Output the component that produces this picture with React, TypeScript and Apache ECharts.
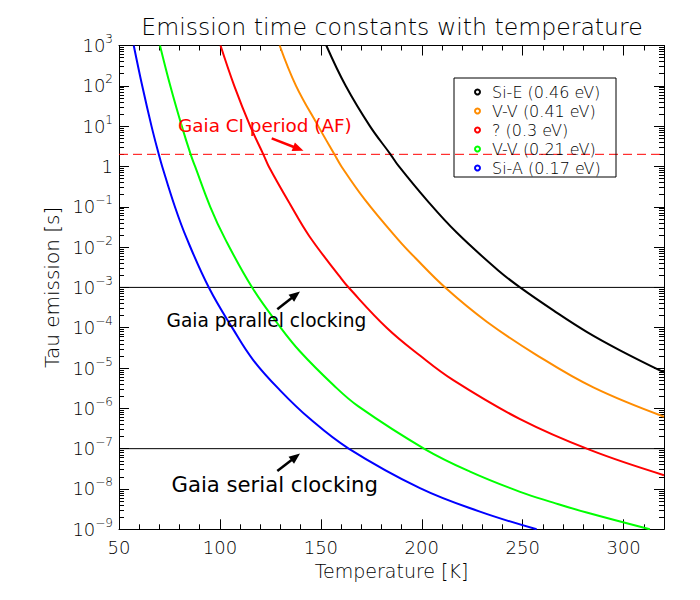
import React, { useEffect, useRef } from "react";
import * as echarts from "echarts";

// ---------- data ----------
const seriesNames = ["Si-E (0.46 eV)", "V-V (0.41 eV)", "? (0.3 eV)", "V-V (0.21 eV)", "Si-A (0.17 eV)"];
const seriesColors = ["#000000", "#ff8c00", "#ff0000", "#00ff00", "#0000ff"];

// Si-E (0.46 eV) — black
const siETemps = [152.7, 162.3, 174.3, 184.5, 188.7, 202.4, 217.3, 237.9, 248.7, 265.2, 281.7, 298.2, 320];
const siETau = [1000, 100, 10, 2, 1, 0.148, 0.0229, 2.63e-3, 1.0e-3, 2.69e-4, 7.9e-5, 2.75e-5, 7.8e-6];

// V-V (0.41 eV) — orange
const vv41Temps = [129.6, 137.7, 148.7, 156.7, 160.2, 171.9, 188.4, 196.6, 212.0, 232.2, 256.9, 285.0, 320];
const vv41Tau = [1000, 100, 10, 2, 1, 0.148, 0.0151, 5.5e-3, 9.5e-4, 1.41e-4, 2.1e-5, 3.3e-6, 6.2e-7];

// ? (0.3 eV) — red
const q30Temps = [100.3, 107.1, 115.0, 121.5, 124.2, 134.7, 144.3, 159.5, 164.1, 182.6, 199.1, 215.6, 248.7, 283.3, 320];
const q30Tau = [1000, 100, 10, 2, 1, 0.117, 0.0186, 1.82e-3, 9.5e-4, 1.0e-4, 2.04e-5, 5.0e-6, 5.4e-7, 9.3e-8, 2.2e-8];

// V-V (0.21 eV) — green
const vv21Temps = [70.3, 75.4, 81.1, 85.5, 87.7, 95.2, 102.5, 116.2, 129.8, 139.7, 156.2, 168.6, 201.5, 223.9, 248.7, 265.2, 281.7, 313];
const vv21Tau = [1000, 100, 10, 2, 1, 0.1, 0.0162, 9.5e-4, 1.05e-4, 2.57e-5, 3.8e-6, 1.12e-6, 9.8e-8, 2.7e-8, 8.5e-9, 4.6e-9, 2.6e-9, 1e-9];

// Si-A (0.17 eV) — blue
const siATemps = [57.3, 61.5, 66.1, 69.7, 71.4, 77.7, 83.5, 94.7, 106.6, 116.5, 129.8, 144.6, 163.6, 199.1, 228.8, 256.9];
const siATau = [1000, 100, 10, 2, 1, 0.1, 0.0166, 9.5e-4, 9.1e-5, 1.58e-5, 2.8e-6, 5.5e-7, 1.02e-7, 1.05e-8, 2.75e-9, 1e-9];

// reference lines (seconds)
const gaiaCIPeriod = 2;
const gaiaParallel = 1e-3;
const gaiaSerial = 1e-7;

// axes
const xMin = 50;
const xMax = 320;
const xMajorTicks = [50, 100, 150, 200, 250, 300];
const xMinorTicks = [60, 70, 80, 90, 110, 120, 130, 140, 160, 170, 180, 190, 210, 220, 230, 240, 260, 270, 280, 290, 310];
const yMajorExponents = [-9, -8, -7, -6, -5, -4, -3, -2, -1, 0, 1, 2, 3];
const yMinorMultipliers = [2, 3, 4, 5, 6, 7, 8, 9];

// ---------- helpers ----------
const FONT = '"DejaVu Sans", sans-serif';
const LIGHT = 300;
const yMajorValues = yMajorExponents.map((e) => Math.pow(10, e));
const yMinorValues: number[] = [];
yMajorExponents.slice(0, -1).forEach((e) => {
  yMinorMultipliers.forEach((m) => yMinorValues.push(m * Math.pow(10, e)));
});

function zip(t: number[], v: number[]) {
  return t.map((x, i) => [x, v[i]]);
}

function arrow(x1: number, y1: number, x2: number, y2: number, color: string, width: number) {
  const dx = x2 - x1;
  const dy = y2 - y1;
  const len = Math.hypot(dx, dy);
  const ux = dx / len;
  const uy = dy / len;
  const headLen = 11;
  const headW = 4.5;
  const bx = x2 - ux * headLen;
  const by = y2 - uy * headLen;
  return [
    { type: "line", silent: true, shape: { x1, y1, x2: bx + ux * 2, y2: by + uy * 2 }, style: { stroke: color, lineWidth: width } },
    {
      type: "polygon",
      silent: true,
      shape: { points: [[x2, y2], [bx - uy * headW, by + ux * headW], [bx + uy * headW, by - ux * headW]] },
      style: { fill: color },
    },
  ];
}

function yLabel(value: number) {
  const e = Math.round(Math.log10(value));
  if (e === 0) return "{b|1}";
  const exp = e < 0 ? "\u2212" + Math.abs(e) : String(e);
  return "{b|10}{s|" + exp + "}";
}

export default function App() {
  const ref = useRef<HTMLDivElement>(null);

  useEffect(() => {
    if (!ref.current) return;
    const chart = echarts.init(ref.current, null, { renderer: "svg" });

    const axisLineStyle = { color: "#000", width: 1 };
    const baseX = { type: "value", min: xMin, max: xMax, splitLine: { show: false }, gridIndex: 0 };
    const baseY = { type: "log", logBase: 10, min: 1e-9, max: 1e3, splitLine: { show: false }, gridIndex: 0 };

    const temps = [siETemps, vv41Temps, q30Temps, vv21Temps, siATemps];
    const taus = [siETau, vv41Tau, q30Tau, vv21Tau, siATau];

    const series: any[] = seriesNames.map((name, i) => ({
      name,
      type: "line",
      xAxisIndex: 0,
      yAxisIndex: 0,
      data: zip(temps[i], taus[i]),
      showSymbol: false,
      symbol: "none",
      smooth: 0.4,
      lineStyle: { color: seriesColors[i], width: 2 },
      itemStyle: { color: seriesColors[i] },
      z: 3,
    }));

    const refLines = [
      { id: "ci", value: gaiaCIPeriod, color: "#ff0000", type: [9, 5] },
      { id: "parallel", value: gaiaParallel, color: "#000000", type: "solid" },
      { id: "serial", value: gaiaSerial, color: "#000000", type: "solid" },
    ];
    refLines.forEach((l) => {
      series.push({
        id: l.id,
        type: "line",
        xAxisIndex: 0,
        yAxisIndex: 0,
        data: [
          [xMin, l.value],
          [xMax, l.value],
        ],
        showSymbol: false,
        symbol: "none",
        silent: true,
        lineStyle: { color: l.color, width: 1, type: l.type },
        z: 2,
      });
    });

    const option: any = {
      animation: false,
      backgroundColor: "#fff",
      title: {
        text: "Emission time constants with temperature",
        left: 387,
        top: 10,
        textAlign: "center",
        textStyle: { fontFamily: FONT, fontSize: 23.6, fontWeight: LIGHT, color: "#000" },
      },
      grid: { left: 119, right: 36, top: 45.5, bottom: 70.7, containLabel: false },
      legend: {
        orient: "vertical",
        left: 474,
        top: 84,
        padding: 0,
        itemGap: 3,
        itemWidth: 19,
        itemHeight: 5,
        icon: "circle",
        selectedMode: false,
        textStyle: { fontFamily: FONT, fontSize: 16, lineHeight: 14.5, color: "#000", fontWeight: LIGHT },
        data: seriesNames.map((n, i) => ({
          name: n,
          itemStyle: { color: "#fff", borderColor: seriesColors[i], borderWidth: 2 },
        })),
      },
      xAxis: [
        {
          ...baseX,
          position: "bottom",
          name: "Temperature [K]",
          nameLocation: "middle",
          nameGap: 32,
          nameTextStyle: { fontFamily: FONT, fontSize: 19, color: "#000", fontWeight: LIGHT },
          axisLine: { show: true, onZero: false, lineStyle: axisLineStyle },
          axisTick: { show: true, inside: true, length: 10, customValues: xMajorTicks, lineStyle: axisLineStyle },
          axisLabel: {
            show: true,
            customValues: xMajorTicks,
            margin: 9,
            fontFamily: FONT,
            fontSize: 18,
            fontWeight: LIGHT,
            color: "#000",
          },
        },
        {
          ...baseX,
          position: "bottom",
          axisLine: { show: false, onZero: false },
          axisTick: { show: true, inside: true, length: 5, customValues: xMinorTicks, lineStyle: axisLineStyle },
          axisLabel: { show: false },
        },
        {
          ...baseX,
          position: "top",
          axisLine: { show: true, onZero: false, lineStyle: axisLineStyle },
          axisTick: { show: true, inside: true, length: 10, customValues: xMajorTicks, lineStyle: axisLineStyle },
          axisLabel: { show: false },
        },
        {
          ...baseX,
          position: "top",
          axisLine: { show: false, onZero: false },
          axisTick: { show: true, inside: true, length: 5, customValues: xMinorTicks, lineStyle: axisLineStyle },
          axisLabel: { show: false },
        },
      ],
      yAxis: [
        {
          ...baseY,
          position: "left",
          name: "Tau emission [s]",
          nameLocation: "middle",
          nameGap: 48,
          nameTextStyle: { fontFamily: FONT, fontSize: 20, color: "#000", fontWeight: LIGHT },
          axisLine: { show: true, onZero: false, lineStyle: axisLineStyle },
          axisTick: { show: true, inside: true, length: 10, customValues: yMajorValues, lineStyle: axisLineStyle },
          axisLabel: {
            show: true,
            customValues: yMajorValues,
            margin: 6,
            formatter: (v: number) => yLabel(v),
            rich: {
              b: { fontFamily: FONT, fontSize: 18, lineHeight: 25, color: "#000", fontWeight: LIGHT },
              s: { fontFamily: FONT, fontSize: 12, lineHeight: 12, verticalAlign: "top", color: "#000", fontWeight: LIGHT },
            },
          },
        },
        {
          ...baseY,
          position: "left",
          axisLine: { show: false, onZero: false },
          axisTick: { show: true, inside: true, length: 5, customValues: yMinorValues, lineStyle: axisLineStyle },
          axisLabel: { show: false },
        },
        {
          ...baseY,
          position: "right",
          axisLine: { show: true, onZero: false, lineStyle: axisLineStyle },
          axisTick: { show: true, inside: true, length: 10, customValues: yMajorValues, lineStyle: axisLineStyle },
          axisLabel: { show: false },
        },
        {
          ...baseY,
          position: "right",
          axisLine: { show: false, onZero: false },
          axisTick: { show: true, inside: true, length: 5, customValues: yMinorValues, lineStyle: axisLineStyle },
          axisLabel: { show: false },
        },
      ],
      graphic: [
        {
          type: "rect",
          silent: true,
          shape: { x: 454, y: 78, width: 162, height: 99 },
          style: { fill: "none", stroke: "#000", lineWidth: 1 },
          z: 10,
        },
        {
          type: "text",
          silent: true,
          x: 178,
          y: 125,
          style: { text: "Gaia CI period (AF)", fill: "#ff0000", font: '18.4px "DejaVu Sans", sans-serif', textVerticalAlign: "middle" },
          z: 10,
        },
        ...arrow(271.7, 138.3, 303.5, 150.8, "#ff0000", 2.5),
        {
          type: "text",
          silent: true,
          x: 166.5,
          y: 320.5,
          style: { text: "Gaia parallel clocking", fill: "#000", font: '18.6px "DejaVu Sans", sans-serif', textVerticalAlign: "middle" },
          z: 10,
        },
        ...arrow(277.3, 309.3, 300, 291.5, "#000", 2.5),
        {
          type: "text",
          silent: true,
          x: 171.5,
          y: 484.5,
          style: { text: "Gaia serial clocking", fill: "#000", font: '21.2px "DejaVu Sans", sans-serif', textVerticalAlign: "middle" },
          z: 10,
        },
        ...arrow(277.3, 471, 300, 453.5, "#000", 2.5),
      ],
      series,
    };

    chart.setOption(option);
    return () => chart.dispose();
  }, []);

  return (
    <div
      ref={ref}
      style={{ position: "fixed", left: 0, top: 0, width: 700, height: 600, background: "#fff" }}
    />
  );
}
